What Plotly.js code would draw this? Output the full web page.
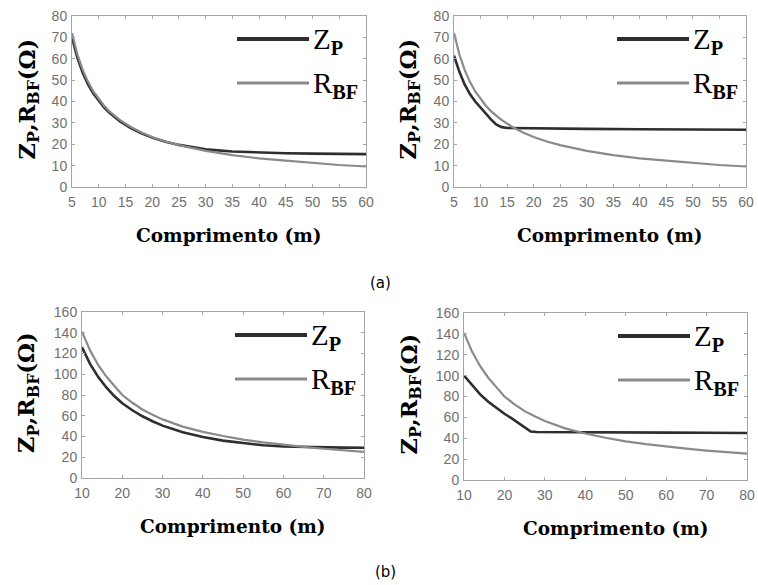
<!DOCTYPE html>
<html>
<head>
<meta charset="utf-8">
<script src="https://cdn.plot.ly/plotly-3.0.1.min.js"></script>
<style>html,body{margin:0;padding:0;background:#fff;}#chart{width:758px;height:585px;}</style>
</head>
<body>
<div id="chart"></div>
<script>
// ---- data ----
// (a) cable length 5..60 m
const lenA = [5,6,7,8,9,10,11,12,13,14,16,18,20,22.5,25,27.5,30,35,40,45,50,55,60];
const rbfA = [72,62.1,54.8,49.2,44.7,41.1,38,35.4,33.2,31.3,28.1,25.5,23.4,21.3,19.6,18.1,16.9,14.9,13.4,12.3,11.2,10.3,9.6];
const zpA_left = [70,60.5,53.5,48,43.7,40.2,37.2,34.7,32.5,30.7,27.6,25.1,23.1,21.2,19.7,18.5,17.6,16.6,16.1,15.8,15.6,15.5,15.4];
const lenA2 = [5,6,7,8,9,10,11,12,13,14,15,20,30,40,50,60];
const zpA_right = [61.5,54,48,43.5,40,37,34,31.5,29.2,28,27.6,27.4,27.2,27,26.9,26.8];
// (b) cable length 10..80 m
const lenB = [10,12,14,16,18,20,22.5,25,27.5,30,35,40,45,50,55,60,65,70,75,80];
const rbfB = [141,123,109,98,89,80,72.5,66,61,56.5,49.5,44.5,40.5,37,34.3,32,30,28.2,26.6,25.2];
const zpB_left = [126,110,97.5,87.5,79,72,65.3,59.5,54.7,50.5,44,39.5,36,33.5,31.5,30.3,29.8,29.5,29.3,29.2];
const lenB2 = [10,12,14,16,18,20,22,24,25.5,26.5,28,30,40,50,60,70,80];
const zpB_right = [100,90.5,82,75,69,63.5,58.5,53,48.5,46.5,46,46,45.8,45.6,45.4,45.2,45];

const xTitle = 'Comprimento (m)';
const yTitle = 'Z<sub>P</sub>,R<sub>BF</sub>(Ω)';
const zpName = 'Z<sub><b>P</b></sub>';
const rbfName = 'R<sub><b>BF</b></sub>';
const captions = ['(a)', '(b)'];

// ---- styling ----
const W = 758, H = 585;
const px = v => v / W;
const py = v => 1 - v / H;
const zpColor = '#2e2e2e', rbfColor = '#8a8a8a';
const tickFont = {family: 'Liberation Sans, Arial, sans-serif', size: 14, color: '#707070'};
const titleFont = {family: 'DejaVu Serif, serif', size: 18.5, color: '#000'};
const legFont = {family: 'Liberation Serif, Times New Roman, serif', size: 29, color: '#000'};

// panel boxes in pixels [left, right, top, bottom], y-title centre x
const panels = [
  {box: [72, 366, 16, 187], yt: 28, xr: [5, 60], dx: 5, yr: [0, 80], dy: 10, x: lenA, zp: zpA_left, zx: lenA, rbf: rbfA},
  {box: [454, 746, 16, 187], yt: 409, xr: [5, 60], dx: 5, yr: [0, 80], dy: 10, x: lenA, zp: zpA_right, zx: lenA2, rbf: rbfA},
  {box: [82, 364, 312, 478], yt: 28, xr: [10, 80], dx: 10, yr: [0, 160], dy: 20, x: lenB, zp: zpB_left, zx: lenB, rbf: rbfB},
  {box: [464, 747, 313, 480], yt: 410, xr: [10, 80], dx: 10, yr: [0, 160], dy: 20, x: lenB, zp: zpB_right, zx: lenB2, rbf: rbfB}
];

const data = [];
const layout = {
  width: W, height: H,
  margin: {l: 0, r: 0, t: 0, b: 0},
  paper_bgcolor: '#fff', plot_bgcolor: '#fff',
  showlegend: false,
  annotations: [], shapes: []
};

panels.forEach((p, i) => {
  const n = i + 1;
  const xa = 'x' + (n === 1 ? '' : n), ya = 'y' + (n === 1 ? '' : n);
  const xk = 'xaxis' + (n === 1 ? '' : n), yk = 'yaxis' + (n === 1 ? '' : n);
  const [l, r, t, b] = p.box;
  const axCommon = {
    showgrid: false, zeroline: false, showline: true, linecolor: '#a5a5a5', linewidth: 1,
    mirror: 'ticks', ticks: 'inside', ticklen: 3, tickcolor: '#a5a5a5', tickfont: tickFont
  };
  layout[xk] = Object.assign({}, axCommon, {domain: [px(l), px(r)], range: p.xr, tick0: p.xr[0], dtick: p.dx, anchor: ya, ticklabelstandoff: 2});
  layout[yk] = Object.assign({}, axCommon, {domain: [py(b), py(t)], range: p.yr, tick0: 0, dtick: p.dy, anchor: xa, ticklabelstandoff: 1});

  data.push({x: p.zx, y: p.zp, xaxis: xa, yaxis: ya, type: 'scatter', mode: 'lines', name: 'Zp',
             line: {color: zpColor, width: 2.6}});
  data.push({x: p.x, y: p.rbf, xaxis: xa, yaxis: ya, type: 'scatter', mode: 'lines', name: 'RBF',
             line: {color: rbfColor, width: 2.2}});

  // axis titles
  layout.annotations.push({xref: 'paper', yref: 'paper', x: px((l + r) / 2 + 10), y: py(b + 48),
    text: '<b>' + xTitle + '</b>', showarrow: false, font: titleFont, xanchor: 'center', yanchor: 'middle'});
  layout.annotations.push({xref: 'paper', yref: 'paper', x: px(p.yt), y: py((t + b) / 2 - 2),
    text: '<b>' + yTitle + '</b>', showarrow: false, textangle: -90,
    font: {family: 'DejaVu Serif, serif', size: 22.5, color: '#000'}, xanchor: 'center', yanchor: 'middle'});

  // legend (drawn inside the axes)
  const ly1 = t + 23, ly2 = t + 67;
  const lx0 = r - 129, lx1 = r - 57;
  layout.shapes.push({type: 'line', xref: 'paper', yref: 'paper', x0: px(lx0), x1: px(lx1), y0: py(ly1), y1: py(ly1),
    line: {color: zpColor, width: 4}});
  layout.shapes.push({type: 'line', xref: 'paper', yref: 'paper', x0: px(lx0), x1: px(lx1), y0: py(ly2), y1: py(ly2),
    line: {color: rbfColor, width: 3}});
  layout.annotations.push({xref: 'paper', yref: 'paper', x: px(lx1 + 2), y: py(ly1 + 2), text: zpName,
    showarrow: false, font: legFont, xanchor: 'left', yanchor: 'middle'});
  layout.annotations.push({xref: 'paper', yref: 'paper', x: px(lx1 + 2), y: py(ly2 + 2), text: rbfName,
    showarrow: false, font: legFont, xanchor: 'left', yanchor: 'middle'});
});

layout.annotations.push({xref: 'paper', yref: 'paper', x: px(380), y: py(283), text: captions[0], showarrow: false,
  font: {family: 'DejaVu Sans, sans-serif', size: 15, color: '#000'}, xanchor: 'center', yanchor: 'middle'});
layout.annotations.push({xref: 'paper', yref: 'paper', x: px(385), y: py(572), text: captions[1], showarrow: false,
  font: {family: 'DejaVu Sans, sans-serif', size: 15, color: '#000'}, xanchor: 'center', yanchor: 'middle'});

Plotly.newPlot('chart', data, layout, {staticPlot: true, displayModeBar: false});
</script>
</body>
</html>
